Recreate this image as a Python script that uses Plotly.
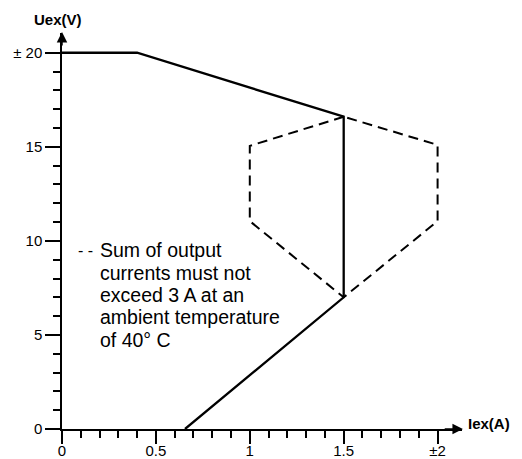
import plotly.graph_objects as go

# Solid boundary curve (Iex in A, Uex in V)
solid_x = [0.0, 0.40, 1.50, 1.50, 0.655]
solid_y = [20.0, 20.0, 16.6, 7.0, 0.0]

# Dashed hexagon (sum of output currents limit)
dash_x = [1.50, 1.00, 1.00, 1.50, 2.00, 2.00, 1.50]
dash_y = [16.6, 15.05, 11.05, 7.0, 11.05, 15.1, 16.6]

x_tickvals = [0, 0.5, 1, 1.5, 2]
x_ticktext = ["0", "0.5", "1", "1.5", "±2"]
x_minor = [round(0.1 * i, 1) for i in range(1, 21) if i % 5 != 0]

y_tickvals = [0, 5, 10, 15, 20]
y_ticktext = ["0", "5", "10", "15", "± 20"]
y_minor = [i for i in range(1, 20) if i % 5 != 0]

note_lines = ["Sum of output", "currents must not", "exceed 3 A at an",
              "ambient temperature", "of 40° C"]

FONT = "Liberation Sans, Arial, Helvetica, sans-serif"

# page body has an 8px margin; the plot area is placed at screen (62..462, 33..429)
PL, PT, PW, PH = 62, 33, 400, 396


def px_to_paper(sx, sy):
    return (sx - PL) / PW, (PT + PH - sy) / PH


fig = go.Figure()
fig.add_trace(go.Scatter(x=solid_x, y=solid_y, mode="lines",
                         line=dict(color="black", width=2.3),
                         showlegend=False, hoverinfo="skip", cliponaxis=False))
fig.add_trace(go.Scatter(x=dash_x, y=dash_y, mode="lines",
                         line=dict(color="black", width=2, dash="10px,6px"),
                         showlegend=False, hoverinfo="skip", cliponaxis=False))

fig.update_layout(
    width=514, height=451,
    margin=dict(l=PL - 8, r=514 - (PL - 8) - PW, t=PT - 8, b=451 - (PT - 8) - PH,
                autoexpand=False, pad=0),
    paper_bgcolor="white", plot_bgcolor="white",
    showlegend=False,
    font=dict(family=FONT, size=15, color="black"),
    xaxis=dict(range=[0, 2.13], showgrid=False, zeroline=False, automargin=False,
               showline=True, linecolor="black", linewidth=1.5,
               tickmode="array", tickvals=x_tickvals, ticktext=x_ticktext,
               ticks="outside", ticklen=13, tickwidth=1.5, tickcolor="black",
               ticklabelstandoff=-6,
               minor=dict(tickmode="array", tickvals=x_minor, ticks="outside",
                          ticklen=7, tickwidth=1.5, tickcolor="black"),
               tickfont=dict(size=15)),
    yaxis=dict(range=[0, 21.05], showgrid=False, zeroline=False, automargin=False,
               showline=True, linecolor="black", linewidth=1.5,
               tickmode="array", tickvals=y_tickvals, ticktext=y_ticktext,
               ticks="outside", ticklen=15, tickwidth=1.5, tickcolor="black",
               ticklabelstandoff=0,
               minor=dict(tickmode="array", tickvals=y_minor, ticks="outside",
                          ticklen=7, tickwidth=1.5, tickcolor="black"),
               tickfont=dict(size=15)),
)

# axis arrows
fig.add_annotation(x=2.135, y=0, ax=2.03, ay=0, xref="x", yref="y",
                   axref="x", ayref="y", text="", showarrow=True,
                   arrowhead=2, arrowsize=1.4, arrowwidth=1.5, arrowcolor="black")
fig.add_annotation(x=0, y=21.1, ax=0, ay=20.3, xref="x", yref="y",
                   axref="x", ayref="y", text="", showarrow=True,
                   arrowhead=2, arrowsize=1.4, arrowwidth=1.5, arrowcolor="black")

# axis titles
ux, uy = px_to_paper(58, 19)
fig.add_annotation(x=ux, y=uy, xref="paper", yref="paper", text="<b>Uex(V)</b>",
                   showarrow=False, xanchor="center", yanchor="middle",
                   font=dict(size=15, family=FONT))
ix, iy = px_to_paper(489, 423)
fig.add_annotation(x=ix, y=iy, xref="paper", yref="paper", text="<b>Iex(A)</b>",
                   showarrow=False, xanchor="center", yanchor="middle",
                   font=dict(size=15, family=FONT))

# note text
note_y_px = [250, 273, 295, 317, 340]
for line, py in zip(note_lines, note_y_px):
    nx, ny = px_to_paper(98, py)
    fig.add_annotation(x=nx, y=ny, xref="paper", yref="paper",
                       text=line, showarrow=False, xanchor="left", yanchor="middle",
                       font=dict(size=19.5, family=FONT))
dx, dy = px_to_paper(95, 250)
fig.add_annotation(x=dx, y=dy, xref="paper", yref="paper",
                   text="- -", showarrow=False, xanchor="right", yanchor="middle",
                   font=dict(size=16, family=FONT))

fig.write_html("out.html")
